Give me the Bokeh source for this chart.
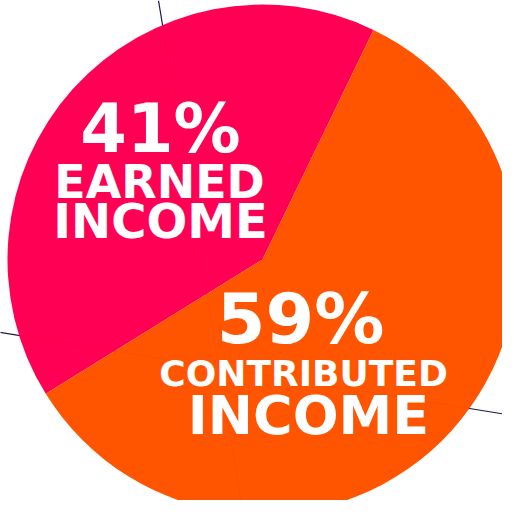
import math
from bokeh.plotting import figure
from bokeh.models import Range1d, Slope, Label, ColumnDataSource
from bokeh.embed import file_html
from bokeh.resources import INLINE

# ---- data ----
categories = ["Earned income", "Contributed income"]
shares = [41, 59]
pct_labels = ["41%", "59%"]
name_line1 = ["EARNED", "CONTRIBUTED"]
name_line2 = ["INCOME", "INCOME"]
colors = ["#FF0055", "#FF5500"]

# ---- layout (pixels in a y-up frame) ----
W, H = 502, 500
CX, CY, R = 262, 257, 255
START_DEG = 64.2

total = sum(shares)
starts, ends = [], []
a = math.radians(START_DEG)
for s in shares:
    starts.append(a)
    a += 2 * math.pi * s / total
    ends.append(a)

src = ColumnDataSource(dict(cat=categories, share=shares, start=starts, end=ends, color=colors))

p = figure(width=W, height=H, output_backend="svg", toolbar_location=None,
           x_range=Range1d(0, W), y_range=Range1d(516 - H, 516),
           min_border=0, outline_line_color=None, background_fill_color="white",
           border_fill_color="white")
p.axis.visible = False
p.grid.visible = False

# background guide lines
guides = [(-6.07, 1475.0), (-0.162, 184.0)]
for g, b in guides:
    p.add_layout(Slope(gradient=g, y_intercept=b, line_color="#1b1b4b", line_width=1.2, level="underlay"))

p.wedge(x=CX, y=CY, radius=R, start_angle="start", end_angle="end",
        fill_color="color", line_color=None, source=src)

for g, b in guides:
    p.add_layout(Slope(gradient=g, y_intercept=b, line_color="#1b1b4b", line_width=1, line_alpha=0.04))

# label offsets relative to the pie centre: (dx, dy, size) per line
label_layout = [
    [(-102, 131, "67px"), (-103, 78, "46px"), (-102, 39, "48px")],
    [(38, -59, "70px"), (41, -114, "36px"), (46, -156, "54px")],
]
for i in range(len(categories)):
    texts = [pct_labels[i], name_line1[i], name_line2[i]]
    for t, (dx, dy, size) in zip(texts, label_layout[i]):
        p.add_layout(Label(x=CX + dx, y=CY + dy, text=t, text_align="center",
                           text_baseline="middle", text_color="white",
                           text_font="DejaVu Sans", text_font_style="bold",
                           text_font_size=size))

open("out.html", "w").write(file_html(p, INLINE))
